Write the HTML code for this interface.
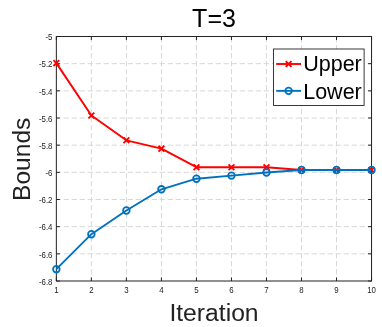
<!DOCTYPE html>
<html><head><meta charset="utf-8"><title>T=3</title>
<style>html,body{margin:0;padding:0;background:#fff}svg{display:block}text{font-family:"Liberation Sans",sans-serif}</style></head><body>
<svg width="382" height="327" viewBox="0 0 382 327">
<rect width="382" height="327" fill="#fff"/>
<g stroke="#d8d8d8" stroke-width="1" stroke-dasharray="5.3 2.7" fill="none">
<line x1="91.37" y1="36.5" x2="91.37" y2="281.0" stroke-dashoffset="-0.6"/>
<line x1="126.39" y1="36.5" x2="126.39" y2="281.0" stroke-dashoffset="-0.6"/>
<line x1="161.42" y1="36.5" x2="161.42" y2="281.0" stroke-dashoffset="-0.6"/>
<line x1="196.44" y1="36.5" x2="196.44" y2="281.0" stroke-dashoffset="-0.6"/>
<line x1="231.46" y1="36.5" x2="231.46" y2="281.0" stroke-dashoffset="-0.6"/>
<line x1="266.48" y1="36.5" x2="266.48" y2="281.0" stroke-dashoffset="-0.6"/>
<line x1="301.51" y1="36.5" x2="301.51" y2="281.0" stroke-dashoffset="-0.6"/>
<line x1="336.53" y1="36.5" x2="336.53" y2="281.0" stroke-dashoffset="-0.6"/>
<line x1="56.35" y1="63.67" x2="371.55" y2="63.67" stroke-dashoffset="0.7"/>
<line x1="56.35" y1="90.83" x2="371.55" y2="90.83" stroke-dashoffset="0.7"/>
<line x1="56.35" y1="118.00" x2="371.55" y2="118.00" stroke-dashoffset="0.7"/>
<line x1="56.35" y1="145.17" x2="371.55" y2="145.17" stroke-dashoffset="0.7"/>
<line x1="56.35" y1="172.33" x2="371.55" y2="172.33" stroke-dashoffset="0.7"/>
<line x1="56.35" y1="199.50" x2="371.55" y2="199.50" stroke-dashoffset="0.7"/>
<line x1="56.35" y1="226.67" x2="371.55" y2="226.67" stroke-dashoffset="0.7"/>
<line x1="56.35" y1="253.83" x2="371.55" y2="253.83" stroke-dashoffset="0.7"/>
</g>
<g stroke="#222222" stroke-width="1" fill="none">
<rect x="56.35" y="36.5" width="315.20" height="244.50"/>
<line x1="56.35" y1="281.0" x2="56.35" y2="277.5"/>
<line x1="56.35" y1="36.5" x2="56.35" y2="40.0"/>
<line x1="91.37" y1="281.0" x2="91.37" y2="277.5"/>
<line x1="91.37" y1="36.5" x2="91.37" y2="40.0"/>
<line x1="126.39" y1="281.0" x2="126.39" y2="277.5"/>
<line x1="126.39" y1="36.5" x2="126.39" y2="40.0"/>
<line x1="161.42" y1="281.0" x2="161.42" y2="277.5"/>
<line x1="161.42" y1="36.5" x2="161.42" y2="40.0"/>
<line x1="196.44" y1="281.0" x2="196.44" y2="277.5"/>
<line x1="196.44" y1="36.5" x2="196.44" y2="40.0"/>
<line x1="231.46" y1="281.0" x2="231.46" y2="277.5"/>
<line x1="231.46" y1="36.5" x2="231.46" y2="40.0"/>
<line x1="266.48" y1="281.0" x2="266.48" y2="277.5"/>
<line x1="266.48" y1="36.5" x2="266.48" y2="40.0"/>
<line x1="301.51" y1="281.0" x2="301.51" y2="277.5"/>
<line x1="301.51" y1="36.5" x2="301.51" y2="40.0"/>
<line x1="336.53" y1="281.0" x2="336.53" y2="277.5"/>
<line x1="336.53" y1="36.5" x2="336.53" y2="40.0"/>
<line x1="371.55" y1="281.0" x2="371.55" y2="277.5"/>
<line x1="371.55" y1="36.5" x2="371.55" y2="40.0"/>
<line x1="56.35" y1="36.50" x2="59.85" y2="36.50"/>
<line x1="371.55" y1="36.50" x2="368.05" y2="36.50"/>
<line x1="56.35" y1="63.67" x2="59.85" y2="63.67"/>
<line x1="371.55" y1="63.67" x2="368.05" y2="63.67"/>
<line x1="56.35" y1="90.83" x2="59.85" y2="90.83"/>
<line x1="371.55" y1="90.83" x2="368.05" y2="90.83"/>
<line x1="56.35" y1="118.00" x2="59.85" y2="118.00"/>
<line x1="371.55" y1="118.00" x2="368.05" y2="118.00"/>
<line x1="56.35" y1="145.17" x2="59.85" y2="145.17"/>
<line x1="371.55" y1="145.17" x2="368.05" y2="145.17"/>
<line x1="56.35" y1="172.33" x2="59.85" y2="172.33"/>
<line x1="371.55" y1="172.33" x2="368.05" y2="172.33"/>
<line x1="56.35" y1="199.50" x2="59.85" y2="199.50"/>
<line x1="371.55" y1="199.50" x2="368.05" y2="199.50"/>
<line x1="56.35" y1="226.67" x2="59.85" y2="226.67"/>
<line x1="371.55" y1="226.67" x2="368.05" y2="226.67"/>
<line x1="56.35" y1="253.83" x2="59.85" y2="253.83"/>
<line x1="371.55" y1="253.83" x2="368.05" y2="253.83"/>
<line x1="56.35" y1="281.00" x2="59.85" y2="281.00"/>
<line x1="371.55" y1="281.00" x2="368.05" y2="281.00"/>
</g>
<g fill="#222222" font-size="8.3px">
<text transform="translate(56.35 293.2) scale(0.95 1)" text-anchor="middle">1</text>
<text transform="translate(91.37 293.2) scale(0.95 1)" text-anchor="middle">2</text>
<text transform="translate(126.39 293.2) scale(0.95 1)" text-anchor="middle">3</text>
<text transform="translate(161.42 293.2) scale(0.95 1)" text-anchor="middle">4</text>
<text transform="translate(196.44 293.2) scale(0.95 1)" text-anchor="middle">5</text>
<text transform="translate(231.46 293.2) scale(0.95 1)" text-anchor="middle">6</text>
<text transform="translate(266.48 293.2) scale(0.95 1)" text-anchor="middle">7</text>
<text transform="translate(301.51 293.2) scale(0.95 1)" text-anchor="middle">8</text>
<text transform="translate(336.53 293.2) scale(0.95 1)" text-anchor="middle">9</text>
<text transform="translate(371.55 293.2) scale(0.95 1)" text-anchor="middle">10</text>
<text transform="translate(52.5 40.20) scale(0.95 1)" text-anchor="end">-5</text>
<text transform="translate(52.5 67.37) scale(0.95 1)" text-anchor="end">-5.2</text>
<text transform="translate(52.5 94.53) scale(0.95 1)" text-anchor="end">-5.4</text>
<text transform="translate(52.5 121.70) scale(0.95 1)" text-anchor="end">-5.6</text>
<text transform="translate(52.5 148.87) scale(0.95 1)" text-anchor="end">-5.8</text>
<text transform="translate(52.5 176.03) scale(0.95 1)" text-anchor="end">-6</text>
<text transform="translate(52.5 203.20) scale(0.95 1)" text-anchor="end">-6.2</text>
<text transform="translate(52.5 230.37) scale(0.95 1)" text-anchor="end">-6.4</text>
<text transform="translate(52.5 257.53) scale(0.95 1)" text-anchor="end">-6.6</text>
<text transform="translate(52.5 284.70) scale(0.95 1)" text-anchor="end">-6.8</text>
</g>
<polyline fill="none" stroke="#ff0000" stroke-width="1.9" stroke-linejoin="round" points="56.35,63.10 91.37,115.50 126.39,140.30 161.42,148.65 196.44,167.20 231.46,167.20 266.48,167.20 301.51,170.00 336.53,170.00 371.55,170.00"/>
<path d="M53.45 60.20L59.25 66.00M53.45 66.00L59.25 60.20" stroke="#ff0000" stroke-width="1.9" fill="none"/>
<path d="M88.47 112.60L94.27 118.40M88.47 118.40L94.27 112.60" stroke="#ff0000" stroke-width="1.9" fill="none"/>
<path d="M123.49 137.40L129.29 143.20M123.49 143.20L129.29 137.40" stroke="#ff0000" stroke-width="1.9" fill="none"/>
<path d="M158.52 145.75L164.32 151.55M158.52 151.55L164.32 145.75" stroke="#ff0000" stroke-width="1.9" fill="none"/>
<path d="M193.54 164.30L199.34 170.10M193.54 170.10L199.34 164.30" stroke="#ff0000" stroke-width="1.9" fill="none"/>
<path d="M228.56 164.30L234.36 170.10M228.56 170.10L234.36 164.30" stroke="#ff0000" stroke-width="1.9" fill="none"/>
<path d="M263.58 164.30L269.38 170.10M263.58 170.10L269.38 164.30" stroke="#ff0000" stroke-width="1.9" fill="none"/>
<path d="M298.61 167.10L304.41 172.90M298.61 172.90L304.41 167.10" stroke="#ff0000" stroke-width="1.9" fill="none"/>
<path d="M333.63 167.10L339.43 172.90M333.63 172.90L339.43 167.10" stroke="#ff0000" stroke-width="1.9" fill="none"/>
<path d="M368.65 167.10L374.45 172.90M368.65 172.90L374.45 167.10" stroke="#ff0000" stroke-width="1.9" fill="none"/>
<polyline fill="none" stroke="#0072bd" stroke-width="1.9" stroke-linejoin="round" points="56.35,269.20 91.37,234.20 126.39,210.50 161.42,189.30 196.44,178.70 231.46,175.60 266.48,172.50 301.51,170.00 336.53,170.00 371.55,170.00"/>
<circle cx="56.35" cy="269.20" r="3.3" stroke="#0072bd" stroke-width="1.8" fill="none"/>
<circle cx="91.37" cy="234.20" r="3.3" stroke="#0072bd" stroke-width="1.8" fill="none"/>
<circle cx="126.39" cy="210.50" r="3.3" stroke="#0072bd" stroke-width="1.8" fill="none"/>
<circle cx="161.42" cy="189.30" r="3.3" stroke="#0072bd" stroke-width="1.8" fill="none"/>
<circle cx="196.44" cy="178.70" r="3.3" stroke="#0072bd" stroke-width="1.8" fill="none"/>
<circle cx="231.46" cy="175.60" r="3.3" stroke="#0072bd" stroke-width="1.8" fill="none"/>
<circle cx="266.48" cy="172.50" r="3.3" stroke="#0072bd" stroke-width="1.8" fill="none"/>
<circle cx="301.51" cy="170.00" r="3.3" stroke="#0072bd" stroke-width="1.8" fill="none"/>
<circle cx="336.53" cy="170.00" r="3.3" stroke="#0072bd" stroke-width="1.8" fill="none"/>
<circle cx="371.55" cy="170.00" r="3.3" stroke="#0072bd" stroke-width="1.8" fill="none"/>
<rect x="273.55" y="49.0" width="90.55" height="56.45" fill="#fff" stroke="#222222" stroke-width="0.9"/>
<line x1="276.2" y1="64.0" x2="301" y2="64.0" stroke="#ff0000" stroke-width="1.9"/><path d="M285.70 61.10L291.50 66.90M285.70 66.90L291.50 61.10" stroke="#ff0000" stroke-width="1.9" fill="none"/>
<line x1="276.2" y1="90.85" x2="301" y2="90.85" stroke="#0072bd" stroke-width="1.9"/><circle cx="288.60" cy="90.85" r="3.3" stroke="#0072bd" stroke-width="1.8" fill="none"/>
<g fill="#000" font-size="21.5px"><text x="303.2" y="71.4">Upper</text><text x="303.2" y="99.1">Lower</text></g>
<text x="214" y="27.1" font-size="25px" text-anchor="middle" fill="#000">T=3</text>
<text x="214" y="320.5" font-size="24.7px" text-anchor="middle" fill="#222222">Iteration</text>
<text transform="translate(29.6 159.3) rotate(-90)" font-size="24.6px" text-anchor="middle" fill="#222222">Bounds</text>
</svg></body></html>
